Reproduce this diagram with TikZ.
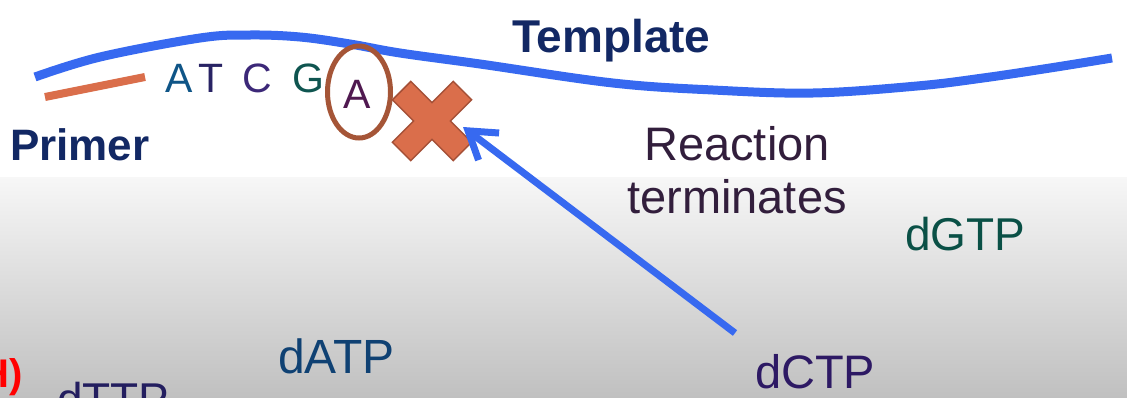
\documentclass[tikz,border=0pt]{standalone}
\usepackage{fontspec}
\setmainfont{Liberation Sans}
\usetikzlibrary{arrows.meta,shapes.geometric}
\definecolor{tblue}{RGB}{55,105,240}
\definecolor{navy}{RGB}{18,40,100}
\definecolor{lettA}{RGB}{15,85,135}
\definecolor{lettT}{RGB}{40,35,100}
\definecolor{lettC}{RGB}{60,40,120}
\definecolor{lettG}{RGB}{15,85,80}
\definecolor{lettAA}{RGB}{80,25,80}
\definecolor{ringc}{RGB}{165,85,55}
\definecolor{primc}{RGB}{218,110,75}
\definecolor{crossf}{RGB}{218,110,75}
\definecolor{crossd}{RGB}{165,80,55}
\definecolor{reac}{RGB}{50,30,60}
\definecolor{dgtpc}{RGB}{10,80,70}
\definecolor{datpc}{RGB}{15,65,115}
\definecolor{dctpc}{RGB}{45,25,100}
\definecolor{dttpc}{RGB}{35,30,95}
\definecolor{bgtop}{RGB}{247,247,247}
\definecolor{bgbot}{RGB}{192,192,192}
\begin{document}
\begin{tikzpicture}[x=1pt,y=-1pt,
  txt/.style={inner sep=0pt, outer sep=0pt, anchor=base west},
  base/.style={font=\fontsize{41}{48}\selectfont},
  label/.style={font=\fontsize{47}{55}\selectfont},
  blabel/.style={font=\bfseries\fontsize{46}{54}\selectfont}]
\useasboundingbox (0,0) rectangle (1127,397);
\clip (0,0) rectangle (1127,397);
\fill[white] (0,0) rectangle (1127,177);
\shade[top color=bgtop, bottom color=bgbot] (0,177) rectangle (1127,397);
% template strand
\draw[tblue, line width=9pt] plot[smooth, tension=0.6] coordinates {(35,77) (100,57) (200,38) (250,35) (300,37) (350,44) (400,53) (480,64) (613,83) (713,90) (813,93) (917,86) (983,78) (1050,68) (1112,58)};
% primer strand
\draw[primc, line width=8pt] (45,97) -- (145,77);
% labels
\node[txt, blabel, text=navy] (template) at (512,52) {Template};
\node[txt, blabel, text=navy, font=\bfseries\fontsize{44}{52}\selectfont] (primer) at (10,160) {Primer};
% bases
\node[txt, base, text=lettA] (a1) at (165,92) {A};
\node[txt, base, text=lettT] (t1) at (198,92) {T};
\node[txt, base, text=lettC] (c1) at (242,92) {C};
\node[txt, base, text=lettG] (g1) at (292,92) {G};
\node[txt, base, text=lettAA] (a2) at (343,108) {A};
\node[draw=ringc, line width=5pt, ellipse, inner sep=0pt, minimum width=63pt, minimum height=92pt] (ring) at (359,92) {};
% cross
\begin{scope}[shift={(432,121)}, rotate=45]
\filldraw[fill=crossf, draw=crossd, line width=1.5pt, line join=miter]
 (-13,-43) -- (13,-43) -- (13,-13) -- (43,-13) -- (43,13) -- (13,13) -- (13,43) -- (-13,43) -- (-13,13) -- (-43,13) -- (-43,-13) -- (-13,-13) -- cycle;
\end{scope}
\coordinate (tip) at (463,127);
% text
\node[txt, label, text=reac, align=center, anchor=base] (reaction) at (737,213) {Reaction\\[-2pt]terminates};
\node[txt, label, text=dgtpc, font=\fontsize{46}{54}\selectfont] (dgtp) at (905,250) {dGTP};
\node[txt, label, text=datpc, font=\fontsize{48}{56}\selectfont] (datp) at (278,373) {dATP};
\node[txt, label, text=dctpc] (dctp) at (755,388) {dCTP};
\node[txt, label, text=dttpc, font=\fontsize{46}{54}\selectfont] (dttp) at (57,415) {dTTP};
\node[inner sep=0pt, outer sep=0pt, anchor=base east, text=red, font=\bfseries\fontsize{40}{48}\selectfont] (mark) at (23,387) {H)};
% arrow
\coordinate (tail) at (735,333);
\draw[tblue, line width=7pt, -{Straight Barb[length=26pt,width=34pt]}] (tail) -- (tip);
\end{tikzpicture}
\end{document}
